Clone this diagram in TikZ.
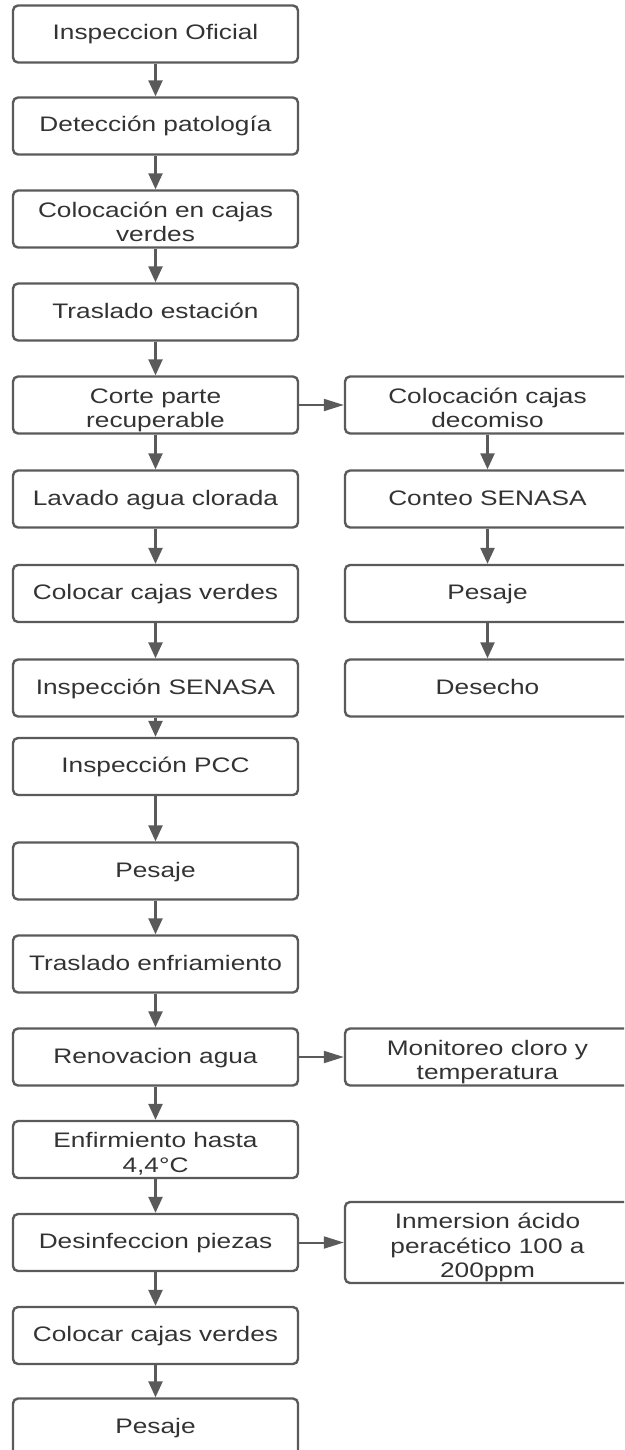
\documentclass[tikz,border=0pt]{standalone}
\usepackage{fontspec}
\setmainfont{Liberation Sans}[FakeStretch=1.25]
\usetikzlibrary{arrows.meta, positioning}
\definecolor{linecolor}{RGB}{90,90,90}
\definecolor{textcolor}{RGB}{51,51,51}
% struts for boxes with more than one line
\newcommand{\firstline}{\rule{0pt}{26pt}}
\newcommand{\lastline}{\rule[-5pt]{0pt}{5pt}}

\begin{document}
\begin{tikzpicture}[
    x=1pt, y=-1pt,
    boxbase/.style={draw=linecolor, line width=2.4pt, rounded corners=5pt, minimum width=285pt, minimum height=57pt, inner xsep=2pt, inner ysep=0pt, align=center, text=textcolor, font=\fontsize{21}{24.5}\selectfont},
    stepbox/.style={boxbase, text height=20pt, text depth=8pt},
    multibox/.style={boxbase},
    flow/.style={-{Triangle[length=16pt, width=14pt]}, draw=linecolor, line width=2.4pt},
    branch/.style={-{Triangle[length=20pt, width=12pt]}, draw=linecolor, line width=2pt}
]
    \path[use as bounding box, clip] (0,0) rectangle (624,1450);

    % Main line
    \node[stepbox] (oficial) at (155.5,34) {Inspeccion Oficial};
    \node[stepbox] (deteccion) at (155.5,126) {Detección patología};
    \node[multibox] (cajas) at (155.5,219) {\firstline Colocación en cajas\\verdes\lastline};
    \node[stepbox] (estacion) at (155.5,312) {Traslado estación};
    \node[multibox] (corte) at (155.5,405) {\firstline Corte parte\\recuperable\lastline};
    \node[stepbox] (lavado) at (155.5,499) {Lavado agua clorada};
    \node[stepbox] (colocar) at (155.5,593.5) {Colocar cajas verdes};
    \node[stepbox] (senasa) at (155.5,688) {Inspección SENASA};
    \node[stepbox] (pcc) at (155.5,766.5) {Inspección PCC};
    \node[stepbox] (pesaje) at (155.5,871) {Pesaje};
    \node[stepbox] (enfriamiento) at (155.5,964) {Traslado enfriamiento};
    \node[stepbox] (renovacion) at (155.5,1057) {Renovacion agua};
    \node[multibox] (hasta) at (155.5,1149.5) {\firstline Enfirmiento hasta\\4,4°C\lastline};
    \node[stepbox] (desinfeccion) at (155.5,1242.5) {Desinfeccion piezas};
    \node[stepbox] (colocarfin) at (155.5,1335.5) {Colocar cajas verdes};
    \node[stepbox] (pesajefin) at (155.5,1427) {Pesaje};

    % Decomiso branch
    \node[multibox] (decomiso) at (487.5,405) {\firstline Colocación cajas\\decomiso\lastline};
    \node[stepbox] (conteo) at (487.5,499) {Conteo SENASA};
    \node[stepbox] (pesajedec) at (487.5,593.5) {Pesaje};
    \node[stepbox] (desecho) at (487.5,688) {Desecho};

    % Side notes
    \node[multibox] (monitoreo) at (487.5,1057) {\firstline Monitoreo cloro y\\temperatura\lastline};
    \node[multibox, minimum height=81pt] (inmersion) at (487.5,1242.5) {\firstline Inmersion ácido\\peracético 100 a\\200ppm\lastline};

    % Arrows
    \foreach \a/\b in {oficial/deteccion, deteccion/cajas, cajas/estacion, estacion/corte,
        corte/lavado, lavado/colocar, colocar/senasa, senasa/pcc, pcc/pesaje,
        pesaje/enfriamiento, enfriamiento/renovacion, renovacion/hasta, hasta/desinfeccion,
        desinfeccion/colocarfin, colocarfin/pesajefin,
        decomiso/conteo, conteo/pesajedec, pesajedec/desecho}
        \draw[flow] (\a) -- (\b);
    \draw[branch] (corte) -- (decomiso);
    \draw[branch] (renovacion) -- (monitoreo);
    \draw[branch] (desinfeccion) -- (inmersion);
\end{tikzpicture}
\end{document}
